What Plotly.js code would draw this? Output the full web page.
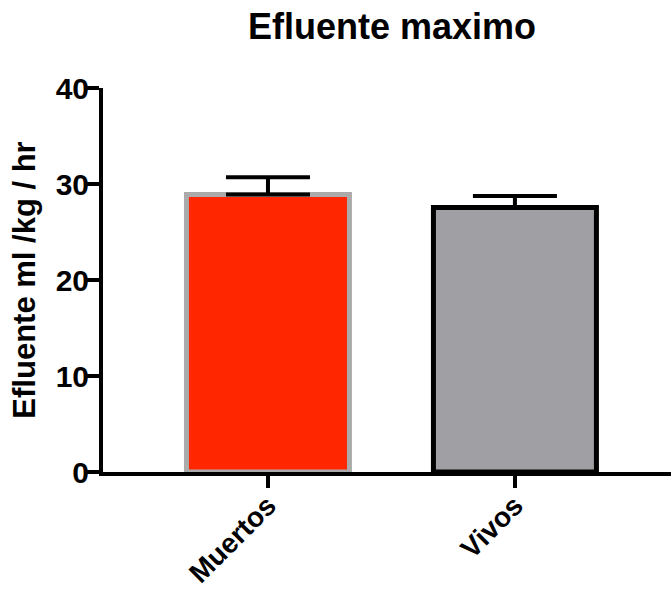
<!DOCTYPE html>
<html>
<head>
<meta charset="utf-8">
<script src="https://cdn.plot.ly/plotly-3.0.1.min.js"></script>
<style>html,body{margin:0;padding:0;background:#fff;}#chart{width:671px;height:590px;}</style>
</head>
<body>
<div id="chart"></div>
<script>
const categories = ["Muertos", "Vivos"];
const means = [28.9, 27.55];
const errorsUp = [1.8, 1.2];
const fillColors = ["#FF2600", "#A09FA4"];
const lineColors = ["#ABABAB", "#000000"];
const yTickVals = [0, 10, 20, 30, 40];

const F = "Arial, 'Liberation Sans', Helvetica, sans-serif";
const xPos = categories.map((c, i) => i);
const xRange = [-0.668, 1.632];
const yRange = [0, 40];

const trace = {
  type: "bar",
  x: xPos,
  y: means,
  width: 0.66,
  marker: { color: fillColors, line: { color: lineColors, width: 5 } },
  error_y: { type: "data", symmetric: false, array: errorsUp, arrayminus: errorsUp.map(() => 0), color: "#000", thickness: 4, width: 42 },
  hoverinfo: "none"
};
// invisible helper trace so the label axes are drawn
const labelTrace = { type: "scatter", mode: "markers", x: xPos, y: means, xaxis: "x2", yaxis: "y2", marker: { opacity: 0 }, hoverinfo: "none" };

const layout = {
  width: 671, height: 590,
  margin: { l: 103, r: 0, t: 88, b: 118 },
  paper_bgcolor: "#fff", plot_bgcolor: "#fff",
  showlegend: false,
  title: { text: "<b>Efluente maximo</b>", font: { family: F, size: 36, color: "#000" }, x: 392/671, xanchor: "center", xref: "container", y: 1 - 26/590, yref: "container", yanchor: "middle" },
  xaxis: {
    range: xRange, tickvals: xPos, showticklabels: false,
    ticks: "outside", ticklen: 12, tickwidth: 4, tickcolor: "#000",
    showline: true, linewidth: 4, linecolor: "#000", showgrid: false, zeroline: false, fixedrange: true
  },
  xaxis2: {
    range: xRange, overlaying: "x", anchor: "y", side: "bottom",
    tickvals: xPos, ticktext: categories.map(c => "<b>" + c + "</b>"),
    tickangle: -45, ticks: "outside", ticklen: 5, tickcolor: "rgba(0,0,0,0)",
    showline: false, showgrid: false, zeroline: false,
    tickfont: { family: F, size: 28, color: "#000" }, fixedrange: true
  },
  yaxis: {
    range: yRange, tickvals: yTickVals, showticklabels: false,
    ticks: "outside", ticklen: 12, tickwidth: 4, tickcolor: "#000",
    showline: true, linewidth: 4, linecolor: "#000", showgrid: false, zeroline: false, fixedrange: true
  },
  yaxis2: {
    range: yRange, overlaying: "y", anchor: "x", side: "left",
    tickvals: yTickVals, ticktext: yTickVals.map(v => "<b>" + v + "</b>"),
    ticks: "outside", ticklen: 7, tickcolor: "rgba(0,0,0,0)",
    showline: false, showgrid: false, zeroline: false,
    tickfont: { family: F, size: 30, color: "#000" },
    title: { text: "<b>Efluente ml /kg / hr</b>", font: { family: F, size: 31, color: "#000" }, standoff: 10 },
    fixedrange: true
  }
};

Plotly.newPlot("chart", [trace, labelTrace], layout, { displayModeBar: false, staticPlot: true });
</script>
</body>
</html>
